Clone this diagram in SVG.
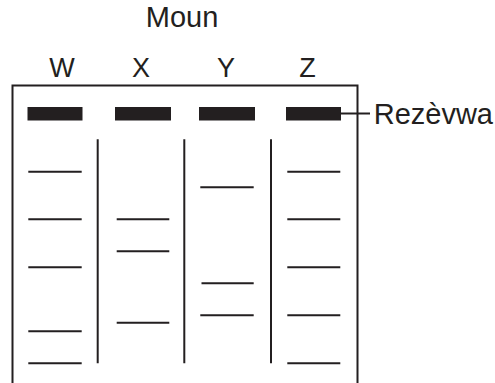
<svg xmlns="http://www.w3.org/2000/svg" width="495" height="383" viewBox="0 0 495 383">
<style>
text{font-family:"Liberation Sans",Arial,sans-serif;font-size:27px;fill:#231f20}
text.big{font-size:29px}
.ln{stroke:#231f20;stroke-width:2;fill:none}
.bar{fill:#231f20}
</style>
<rect width="495" height="383" fill="#fff"/>
<g id="title"><text class="big" x="182" y="27" text-anchor="middle">Moun</text></g>
<g id="frame"><path class="ln" d="M12.5,383 V85.5 H357.5 V383"/></g>
<g id="lane-W">
<text x="62" y="77" text-anchor="middle">W</text>
<rect class="bar" x="27.5" y="107" width="55" height="13.5"/>
<path class="ln" d="M28.3,171.7H81.7M28.3,219.3H81.7M28.3,267.3H81.7M28.3,331.3H81.7M28.3,363.3H81.7"/>
</g>
<g id="lane-X">
<text x="141" y="77" text-anchor="middle">X</text>
<rect class="bar" x="115" y="107" width="56" height="13.5"/>
<path class="ln" d="M116.7,219.3H169.3M116.7,251.3H169.3M116.7,322.7H169.3"/>
</g>
<g id="lane-Y">
<text x="226" y="77" text-anchor="middle">Y</text>
<rect class="bar" x="199" y="107" width="56" height="13.5"/>
<path class="ln" d="M200.3,187.3H253.7M201.5,283.3H253.7M200.3,315.3H253.7"/>
</g>
<g id="lane-Z">
<text x="307.5" y="77" text-anchor="middle">Z</text>
<rect class="bar" x="286" y="107" width="55" height="13.5"/>
<path class="ln" d="M287.3,171.7H340.3M287.3,219.3H340.3M287.3,267.3H340.3M287.3,315.3H340.3M287.3,363.3H340.3"/>
</g>
<g id="dividers">
<path class="ln" d="M97.7,139.3V363.3M184.3,139.3V363.3M271,139.3V363.3"/>
</g>
<g id="label-reservoir"><text class="big" x="373.7" y="123.5">Rezèvwa</text></g>
<g id="connectors"><path class="ln" d="M341,113.5H370"/></g>
</svg>
